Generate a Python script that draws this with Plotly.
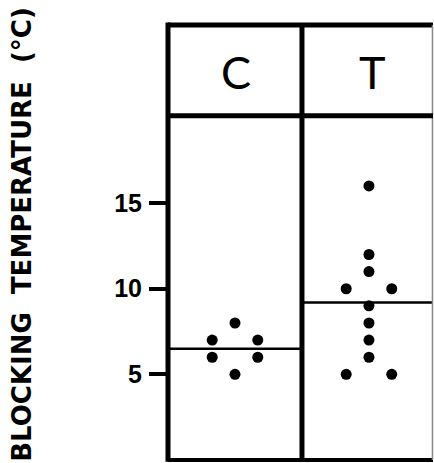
import plotly.graph_objects as go

# Blocking temperatures (°C) for the two groups
groups = ["C", "T"]
group_pos = [1, 2]
values_c = [8, 7, 7, 6, 6, 5]
values_t = [16, 12, 11, 10, 10, 9, 8, 7, 6, 5, 5]
group_means = [6.5, 9.2]
y_ticks = [5, 10, 15]

X_MIN, X_MAX = 0.5, 2.478
Y_MIN, Y_MAX = 0, 25.4
HEADER_Y = 20.1
PAIR_GAP = 0.17


def spread(vals, centre):
    """Place equal values side by side around the group centre."""
    out = []
    seen = {}
    for v in vals:
        n = vals.count(v)
        i = seen.get(v, 0)
        seen[v] = i + 1
        out.append(centre + (i - (n - 1) / 2) * 2 * PAIR_GAP)
    return out


fig = go.Figure()

for name, pos, vals in zip(groups, group_pos, [values_c, values_t]):
    fig.add_trace(go.Scatter(
        x=spread(vals, pos), y=vals, mode="markers", name=name,
        marker=dict(size=11, color="black"), showlegend=False,
        hoverinfo="y",
    ))

# group mean lines, each spanning its column
for pos, m in zip(group_pos, group_means):
    fig.add_trace(go.Scatter(
        x=[max(pos - 0.5, X_MIN), min(pos + 0.5, X_MAX)], y=[m, m],
        mode="lines", line=dict(color="black", width=2.5),
        showlegend=False, hoverinfo="skip",
    ))

shapes = [
    # outer frame
    dict(type="line", xref="paper", yref="paper", x0=0, x1=0, y0=-0.004, y1=1.006,
         line=dict(color="black", width=5)),
    dict(type="line", xref="paper", yref="paper", x0=0, x1=1, y0=1, y1=1,
         line=dict(color="black", width=5)),
    dict(type="line", xref="paper", yref="paper", x0=0, x1=1, y0=0, y1=0,
         line=dict(color="black", width=4)),
    dict(type="line", xref="paper", yref="paper", x0=0.998, x1=0.998, y0=0, y1=1,
         line=dict(color="#888888", width=1.5)),
    # column divider
    dict(type="line", xref="x", yref="paper", x0=1.5, x1=1.5, y0=0, y1=1,
         line=dict(color="black", width=5)),
    # header row separator
    dict(type="line", xref="paper", yref="y", x0=0, x1=1, y0=HEADER_Y, y1=HEADER_Y,
         line=dict(color="black", width=5)),
]

annotations = [
    dict(text=g, x=p + dx, y=22.65, xref="x", yref="y", showarrow=False,
         font=dict(family="Lato", size=45, color="black"))
    for g, p, dx in zip(groups, group_pos, [0.007, 0.03])
]
nb = "\u00a0"
annotations.append(dict(
    text=f"BLOCKING{nb*2}TEMPERATURE{nb*2}(°C)",
    x=-0.551, y=0.52, xref="paper", yref="paper", showarrow=False,
    textangle=-90, xanchor="center", yanchor="middle",
    font=dict(family="DejaVu Sans", size=26, color="black", weight="bold"),
))

fig.update_layout(
    width=434, height=463,
    margin=dict(l=168, r=1, t=25, b=3),
    paper_bgcolor="white", plot_bgcolor="white",
    shapes=shapes, annotations=annotations,
    xaxis=dict(range=[X_MIN, X_MAX], showgrid=False, zeroline=False,
               showticklabels=False, ticks="", showline=False),
    yaxis=dict(range=[Y_MIN, Y_MAX], showgrid=False, zeroline=False,
               tickvals=y_ticks, ticktext=[str(t) for t in y_ticks],
               ticks="outside", ticklen=18, tickwidth=4, tickcolor="black",
               showline=False, ticklabelstandoff=2,
               tickfont=dict(family="Liberation Sans", size=25, color="black",
                             weight="bold")),
)

fig.write_html("out.html")
